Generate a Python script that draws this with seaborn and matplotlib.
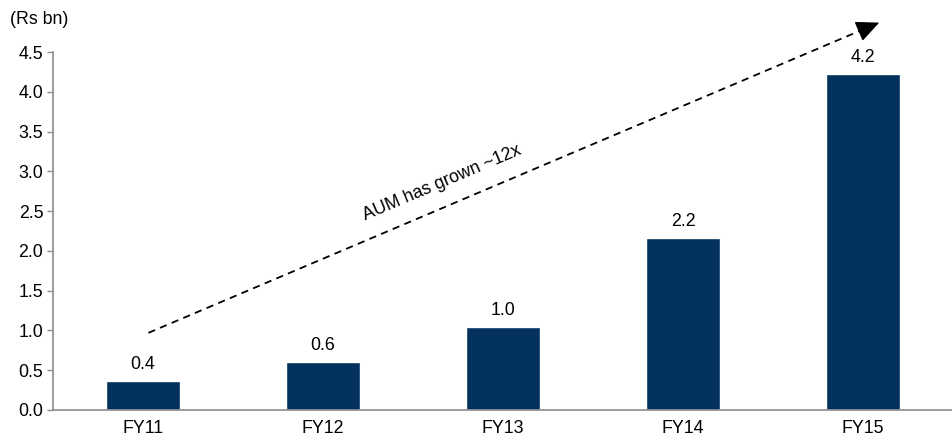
import matplotlib
matplotlib.use("Agg")
import matplotlib.pyplot as plt
import seaborn as sns
import pandas as pd
import numpy as np

# AUM by fiscal year (Rs bn)
years = ["FY11", "FY12", "FY13", "FY14", "FY15"]
aum = [0.36, 0.60, 1.04, 2.16, 4.22]
y_ticks = [0.0, 0.5, 1.0, 1.5, 2.0, 2.5, 3.0, 3.5, 4.0, 4.5]

sns.set_theme(style="white")
plt.rcParams["font.family"] = ["Liberation Sans", "DejaVu Sans"]

FS = 12.8

df = pd.DataFrame({"year": years, "aum": aum})

fig = plt.figure(figsize=(9.53, 4.43), dpi=100)
ax = fig.add_axes([0.0556, 0.0745, 0.9444, 0.808])

sns.barplot(data=df, x="year", y="aum", color="#02315E", saturation=1,
            width=0.41, ax=ax)

ax.set_xlim(-0.5, len(years) - 0.5)
ax.set_ylim(0, 4.5)
ax.set_yticks(y_ticks)
ax.set_yticklabels([f"{t:.1f}" for t in y_ticks], fontsize=FS, color="#000000")
ax.set_xlabel("")
ax.set_ylabel("")

# value labels above each bar
for i, v in enumerate(aum):
    ax.annotate(f"{v:.1f}", (i, v), xytext=(0, 6), textcoords="offset points",
                ha="center", va="bottom", fontsize=FS, color="#000000")

# spines and ticks
for s in ["top", "right"]:
    ax.spines[s].set_visible(False)
for s in ["left", "bottom"]:
    ax.spines[s].set_color("#8C8C8C")
    ax.spines[s].set_linewidth(1.2)
ax.tick_params(axis="x", which="major", length=0, labelsize=FS, pad=7,
               colors="#000000")
ax.set_xticks(np.arange(0.5, len(years) - 0.5, 1.0), minor=True)
ax.tick_params(axis="x", which="minor", length=4, width=1, color="#8C8C8C",
               direction="out")
ax.tick_params(axis="y", which="major", length=4, width=1, color="#8C8C8C",
               direction="out", left=True, pad=3)

# growth trend arrow: dashed shaft plus a solid filled head
start = np.array([0.03, 0.97])
tip = np.array([4.09, 4.87])
neck = start + (tip - start) * 0.975
ax.plot([start[0], neck[0]], [start[1], neck[1]], color="black", lw=1.3,
        linestyle=(0, (4, 3)), clip_on=False)
ax.annotate("", xy=tuple(tip), xytext=tuple(neck),
            arrowprops=dict(arrowstyle="-|>,head_length=1.2,head_width=0.55",
                            color="black", lw=1.0, shrinkA=0, shrinkB=0),
            annotation_clip=False)
ax.text(1.66, 2.86, "AUM has grown ~12x", rotation=23, rotation_mode="anchor",
        ha="center", va="center", fontsize=FS, color="#000000")

fig.text(0.011, 0.955, "(Rs bn)", fontsize=FS, ha="left", va="center",
         color="#000000")

fig.savefig("out.png", dpi=100)
